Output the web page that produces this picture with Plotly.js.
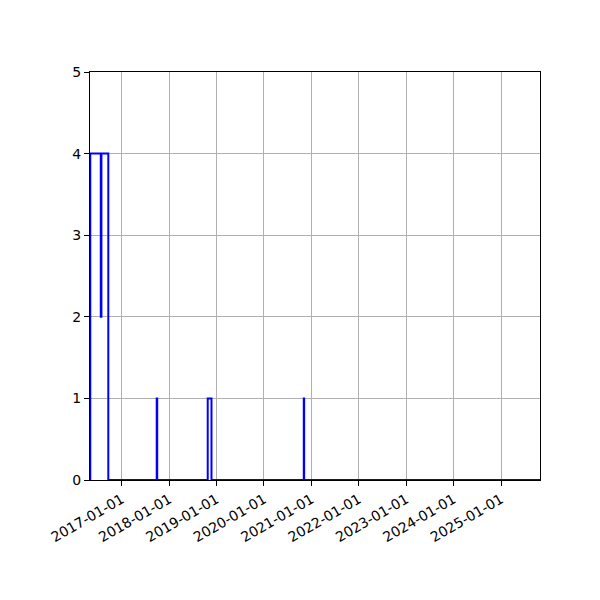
<!DOCTYPE html>
<html>
<head>
<meta charset="utf-8">
<script src="https://cdn.plot.ly/plotly-3.0.1.min.js"></script>
<style>
  html, body { margin: 0; padding: 0; background: #fff; }
  #chart { width: 600px; height: 600px; }
</style>
</head>
<body>
<div id="chart"></div>
<script>
// step series: value holds from each date until the next one
var stepDates = [
  "2016-05-01", "2016-05-03", "2016-07-23", "2016-07-28", "2016-09-19",
  "2017-09-27", "2017-10-01", "2018-10-25", "2018-11-23",
  "2020-11-03", "2020-11-06", "2025-10-28"
];
var stepValues = [0, 4, 2, 4, 0, 1, 0, 1, 0, 1, 0, 0];

var xRange = ["2016-05-01", "2025-10-28"];
var xTickVals = ["2017-01-01", "2018-01-01", "2019-01-01", "2020-01-01", "2021-01-01",
  "2022-01-01", "2023-01-01", "2024-01-01", "2025-01-01"];
var yTickVals = [0, 1, 2, 3, 4, 5];

var axisCommon = {
  showline: true,
  linecolor: "#000",
  linewidth: 1,
  mirror: true,
  ticks: "outside",
  ticklen: 5,
  tickwidth: 1,
  tickcolor: "#000",
  showgrid: true,
  gridcolor: "#b0b0b0",
  gridwidth: 1,
  zeroline: false,
  tickfont: { family: "DejaVu Sans", size: 14, color: "#000" }
};

Plotly.newPlot(
  "chart",
  [
    {
      type: "scatter",
      mode: "lines",
      x: stepDates,
      y: stepValues,
      line: { shape: "hv", color: "#0000ff", width: 2 },
      hoverinfo: "x+y"
    }
  ],
  {
    width: 600,
    height: 600,
    margin: { l: 90, r: 60, t: 72, b: 120 },
    paper_bgcolor: "#fff",
    plot_bgcolor: "#fff",
    showlegend: false,
    xaxis: Object.assign({}, axisCommon, {
      type: "date",
      range: xRange,
      tickmode: "array",
      tickvals: xTickVals,
      ticktext: xTickVals,
      tickangle: -30
    }),
    yaxis: Object.assign({}, axisCommon, {
      range: [0, 5],
      tickmode: "array",
      tickvals: yTickVals
    })
  },
  { displayModeBar: false, staticPlot: true }
);
</script>
</body>
</html>
